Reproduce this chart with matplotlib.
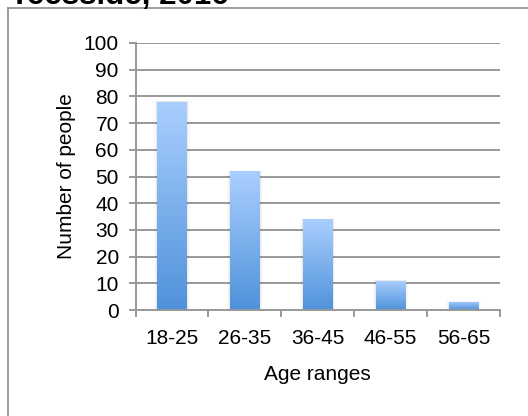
import numpy as np
import matplotlib
matplotlib.use("Agg")
import matplotlib.pyplot as plt
from matplotlib.colors import LinearSegmentedColormap
from matplotlib.lines import Line2D

categories = ["18-25", "26-35", "36-45", "46-55", "56-65"]
values = [78, 52, 34, 11, 3]
yticks = [0, 10, 20, 30, 40, 50, 60, 70, 80, 90, 100]
title = "Teesside, 2016"
xlabel = "Age ranges"
ylabel = "Number of people"

plt.rcParams['font.family'] = ['Liberation Sans', 'DejaVu Sans']

W, H = 528, 416
fig = plt.figure(figsize=(W / 100, H / 100), dpi=100)
fig.patch.set_facecolor("white")

left, right, top, bottom = 135.5, 500, 43, 310
ax = fig.add_axes([left / W, 1 - bottom / H, (right - left) / W, (bottom - top) / H])

grid_c = "#999999"
ax.set_xlim(0, len(categories))
ax.set_ylim(0, 100)
ax.set_yticks(yticks)
ax.set_yticklabels([str(t) for t in yticks])
ax.yaxis.grid(True, color=grid_c, linewidth=1.4)
ax.set_axisbelow(True)
for s in ["top", "right"]:
    ax.spines[s].set_visible(False)
for s in ["left", "bottom"]:
    ax.spines[s].set_color(grid_c)
    ax.spines[s].set_linewidth(1.4)

# x ticks at boundaries, labels at centers
ax.set_xticks(np.arange(len(categories) + 1))
ax.set_xticklabels([])
centers = np.arange(len(categories)) + 0.5
ax.set_xticks(centers, minor=True)
ax.set_xticklabels(categories, minor=True)
ax.tick_params(axis="x", which="major", length=5, width=1.4, color=grid_c, direction="out")
ax.tick_params(axis="x", which="minor", length=0, pad=14, labelsize=15)
ax.tick_params(axis="y", length=5, width=1.4, color=grid_c, direction="out", pad=7, labelsize=15)

cmap = LinearSegmentedColormap.from_list("bar", ["#4f92da", "#aacfff"])
grad = np.linspace(0, 1, 256).reshape(-1, 1)
bw = 0.41
bars = ax.bar(centers, values, width=bw, color="#7fb1ee", zorder=2)
for b, v in zip(bars, values):
    x0 = b.get_x()
    # soft shadow
    for k, a in enumerate([0.04, 0.025, 0.015]):
        d = 0.012 * (k + 1)
        ax.add_patch(plt.Rectangle((x0 - d, 0), bw + 2 * d, v + d * 8, color="black",
                                   alpha=a, linewidth=0, zorder=1.5))
    b.set_facecolor("none")
    b.set_edgecolor("none")
    im = ax.imshow(grad, cmap=cmap, aspect="auto", origin="lower",
                   extent=[x0, x0 + bw, 0, v], zorder=2.5, interpolation="bilinear")
    im.set_clip_path(b)
ax.set_xlim(0, len(categories))
ax.set_ylim(0, 100)

fig.text(66 / W, 1 - 176.5 / H, ylabel, rotation=90, ha="center", va="center", fontsize=15)
fig.text(317.75 / W, 1 - 380 / H, xlabel, ha="center", va="baseline", fontsize=15)
fig.text(10 / W, 1 - 4 / H, title, ha="left", va="baseline", fontsize=22.5, fontweight="bold")

border_c = "#8c8c8c"
fig.add_artist(Line2D([8 / W, 8 / W], [0, 1 - 8 / H], color=border_c, linewidth=1.2))
fig.add_artist(Line2D([8 / W, 1], [1 - 8 / H, 1 - 8 / H], color=border_c, linewidth=1.2))

fig.savefig("out.png", dpi=100)
